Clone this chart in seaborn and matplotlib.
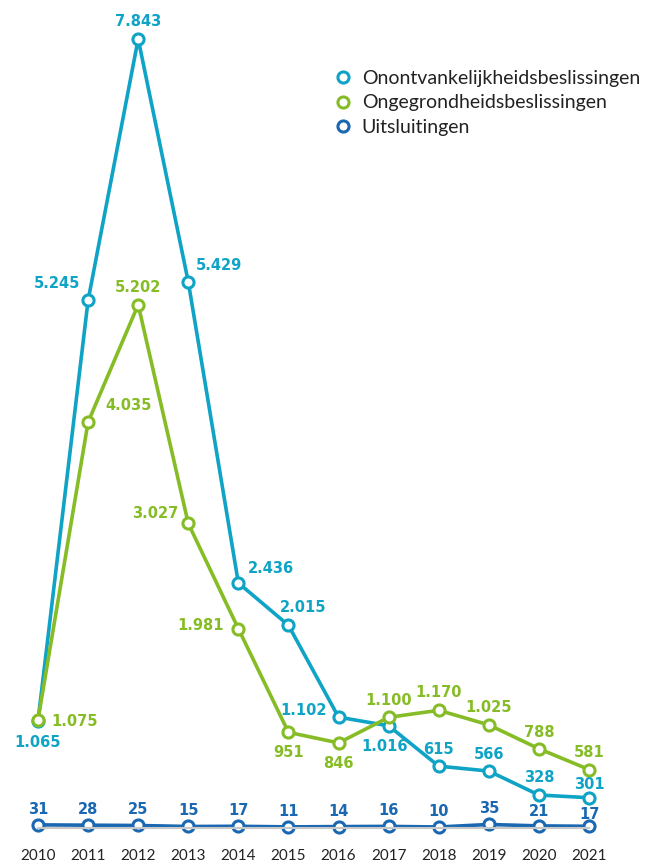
import matplotlib
matplotlib.use("Agg")
import matplotlib.pyplot as plt
from matplotlib.lines import Line2D
import seaborn as sns
import pandas as pd

# ==============================
# DATA
# ==============================
years = [2010, 2011, 2012, 2013, 2014, 2015, 2016, 2017, 2018, 2019, 2020, 2021]
onontvankelijk = [1065, 5245, 7843, 5429, 2436, 2015, 1102, 1016, 615, 566, 328, 301]
ongegrond = [1075, 4035, 5202, 3027, 1981, 951, 846, 1100, 1170, 1025, 788, 581]
uitsluitingen = [31, 28, 25, 15, 17, 11, 14, 16, 10, 35, 21, 17]
series_names = ["Onontvankelijkheidsbeslissingen", "Ongegrondheidsbeslissingen", "Uitsluitingen"]

colors = ["#0fa3c6", "#86bc25", "#1a67b2"]

# label offsets in pixels (dx, dy) per punt
off_cyan = [(0, -20), (-31, 18), (0, 19), (31, 18), (33, 16), (15, 19),
            (-35, 8), (-4, -19), (0, 18), (0, 18), (0, 19), (0, 15)]
off_green = [(37, 0), (40, 18), (0, 19), (-33, 11), (-38, 5), (0, -19),
             (0, -19), (0, 18), (0, 19), (0, 19), (0, 18), (0, 19)]
off_blue = [(0, 17), (0, 17), (0, 17), (0, 17), (0, 17), (0, 17),
            (0, 17), (0, 17), (0, 17), (0, 17), (0, 16), (0, 13)]

def fmt(v):
    return f"{v:,}".replace(",", ".")

# ==============================
# PLOT
# ==============================
sns.set_style("white")
plt.rcParams['font.family'] = ['Lato', 'DejaVu Sans']

fig = plt.figure(figsize=(6.5, 8.64), dpi=100)
ax = fig.add_axes([38 / 650, (864 - 828) / 864, (589 - 38) / 650, (828 - 39) / 864])

df = pd.DataFrame({"jaar": years})
for naam, vals, col in [(series_names[0], onontvankelijk, colors[0]),
                        (series_names[1], ongegrond, colors[1]),
                        (series_names[2], uitsluitingen, colors[2])]:
    df[naam] = vals
    sns.lineplot(data=df, x="jaar", y=naam, ax=ax, color=col, linewidth=2.6,
                 marker="o", markersize=8, markerfacecolor="white",
                 markeredgecolor=col, markeredgewidth=2.2, clip_on=False)

for vals, offs, col in [(onontvankelijk, off_cyan, colors[0]),
                        (ongegrond, off_green, colors[1]),
                        (uitsluitingen, off_blue, colors[2])]:
    for x, v, (dx, dy) in zip(years, vals, offs):
        ax.annotate(fmt(v), (x, v), xytext=(dx, dy), textcoords="offset pixels",
                    ha="center", va="center_baseline", color=col, fontsize=10.5,
                    fontweight="bold", family="DejaVu Sans")

ax.set_xlim(2010, 2021)
ax.set_ylim(0, 7843)
ax.set_xticks(years)
ax.set_xticklabels([str(y) for y in years], fontsize=11, color="#222222")
ax.set_yticks([])
ax.set_xlabel("")
ax.set_ylabel("")
ax.tick_params(axis="x", length=0, pad=15)
for s in ["top", "right", "left"]:
    ax.spines[s].set_visible(False)
ax.spines["bottom"].set_color("#c8c8c8")
ax.spines["bottom"].set_linewidth(1.5)

handles = [Line2D([], [], linestyle="none", marker="o", markersize=8,
                  markerfacecolor="white", markeredgecolor=c, markeredgewidth=2.2)
           for c in colors]
leg = fig.legend(handles, series_names, loc="upper left",
                 bbox_to_anchor=(320 / 650, 1 - 56 / 864), frameon=False,
                 fontsize=14, handletextpad=0.45, labelspacing=0.4,
                 handlelength=1.0, borderpad=0.2)
for t in leg.get_texts():
    t.set_color("#222222")

fig.savefig("out.png", dpi=100)
